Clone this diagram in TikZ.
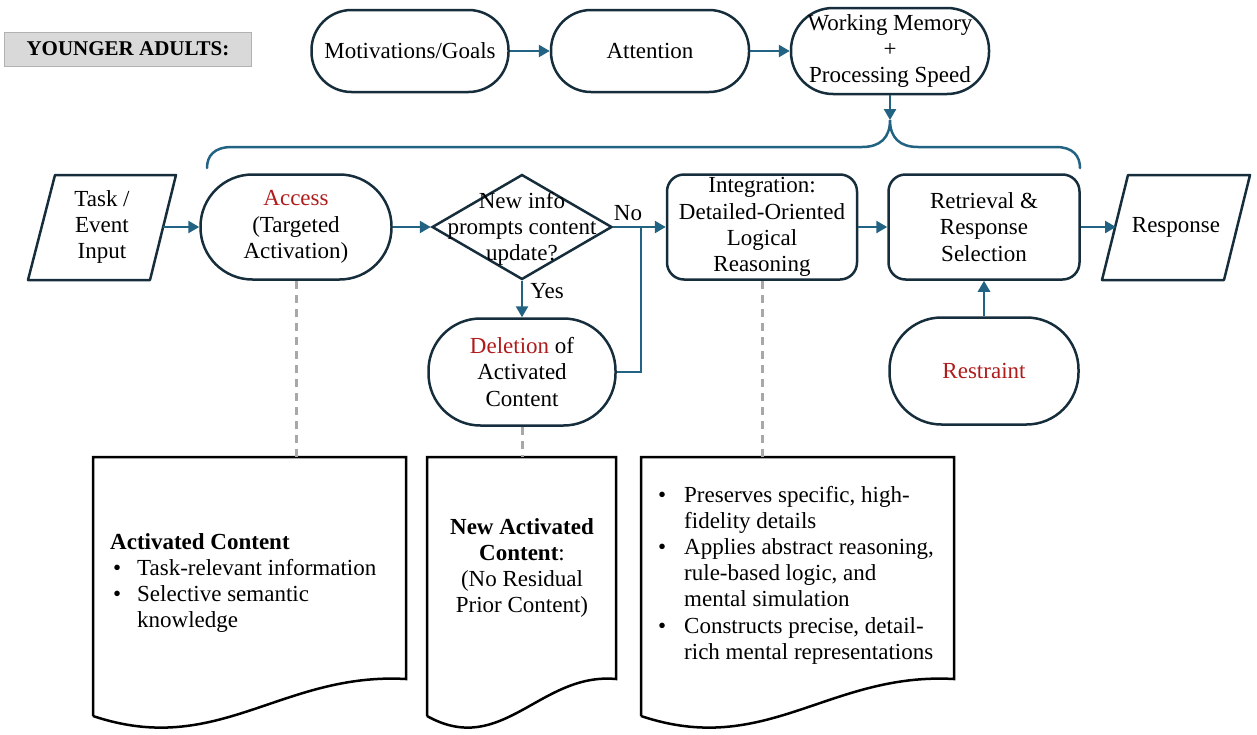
\documentclass[tikz,border=0pt]{standalone}
\usepackage{fontspec}
\setmainfont{Liberation Serif}
\usetikzlibrary{arrows.meta,shapes.geometric}
\definecolor{nodeline}{RGB}{22,45,60}
\definecolor{arrblue}{RGB}{34,98,130}
\definecolor{accred}{RGB}{175,28,28}
\definecolor{dashgray}{RGB}{168,168,168}
\definecolor{labelgray}{RGB}{217,217,217}
\begin{document}
\begin{tikzpicture}[x=1pt,y=-1pt,
  txt/.style={font=\fontsize{23}{26.2}\selectfont, align=center, inner sep=0pt},
  stadium/.style={txt, draw=nodeline, line width=2.5pt, rounded corners=#1},
  roundbox/.style={txt, draw=nodeline, line width=2.5pt, rounded corners=17pt},
  shapeline/.style={draw=nodeline, line width=2.5pt, line join=round},
  docline/.style={draw=black, line width=2.5pt, line join=miter},
  conn/.style={draw=arrblue, line width=2.5pt},
  arr/.style={conn, -{Triangle[length=11pt,width=12pt]}},
  dashconn/.style={draw=dashgray, line width=3pt, dash pattern=on 8pt off 6pt},
  lbl/.style={txt}
]
\useasboundingbox (0,0) rectangle (1257,734);

% title label
\node[txt, font=\fontsize{21}{24}\selectfont\bfseries, fill=labelgray, draw=black!30, line width=0.8pt,
      minimum width=247pt, minimum height=34pt] (title) at (128,49) {YOUNGER ADULTS:};

% top row
\node[stadium=40pt, minimum width=197pt, minimum height=82pt] (mot) at (410,51) {Motivations/Goals};
\node[stadium=40pt, minimum width=198pt, minimum height=82pt] (att) at (650,51) {Attention};
\node[stadium=42pt, minimum width=198pt, minimum height=86pt] (wm) at (890,51) {Working Memory\\+\\Processing Speed};
\draw[arr] (mot) -- (att);
\draw[arr] (att) -- (wm);

% brace
\coordinate (bracetip) at (890,120);
\draw[conn, line cap=round] (207,168) .. controls (207,156) and (214,147) .. (232,147) -- (862,147)
   .. controls (880,147) and (890,138) .. (bracetip)
   .. controls (890,138) and (900,147) .. (918,147) -- (1056,147)
   .. controls (1073,147) and (1080,156) .. (1080,168);
\draw[arr] (wm.south) -- (bracetip);

% task input (parallelogram)
\node[txt, minimum width=100pt, minimum height=100pt] (task) at (102,227) {Task /\\Event\\Input};
\draw[shapeline] (55,175) -- (176,175) -- (150,280) -- (28,280) -- cycle;
\coordinate (taskE) at (163,227);

% access
\node[stadium=52pt, minimum width=191pt, minimum height=105pt] (access) at (296,227)
  {\textcolor{accred}{Access}\\(Targeted\\Activation)};
\draw[arr] (taskE) -- (access);

% decision diamond
\node[diamond, draw=nodeline, line width=2.5pt, inner sep=0pt, minimum width=180pt, minimum height=105pt] (dec) at (522,227) {};
\node[txt] (dectext) at (522,229) {New info\\prompts content\\update?};
\draw[arr] (access) -- (dec);

% integration
\node[roundbox, minimum width=190pt, minimum height=105pt] (integ) at (762,227)
  {Integration:\\Detailed-Oriented\\Logical\\Reasoning};
\draw[arr] (dec.east) -- (integ.west);
\node[lbl] (nolbl) at (628,213) {No};

% deletion
\node[stadium=52pt, minimum width=187pt, minimum height=107pt] (del) at (522,372)
  {\textcolor{accred}{Deletion} of\\Activated\\Content};
\draw[arr] (dec.south) -- (del.north);
\node[lbl] (yeslbl) at (547,291) {Yes};
\coordinate (join) at (641,227);
\draw[conn] (del.east) -| (join);

% retrieval
\node[roundbox, minimum width=191pt, minimum height=105pt] (retr) at (984,227)
  {Retrieval \&\\Response\\Selection};
\draw[arr] (integ) -- (retr);

% response (parallelogram)
\node[txt, minimum width=100pt, minimum height=100pt] (resp) at (1176,227) {Response};
\draw[shapeline] (1128,175) -- (1250,175) -- (1224,280) -- (1102,280) -- cycle;
\coordinate (respW) at (1116,227);
\draw[arr] (retr.east) -- (respW);

% restraint
\node[stadium=52pt, minimum width=189pt, minimum height=107pt] (restr) at (984,371)
  {\textcolor{accred}{Restraint}};
\draw[arr] (restr.north) -- (retr.south);

% documents
\coordinate (doc1top) at (296,457);
\coordinate (doc2top) at (522,457);
\coordinate (doc3top) at (762,457);
\draw[docline] (93,716) -- (93,457) -- (406,457) -- (406,679)
   .. controls (281,672) and (218,758) .. (93,716);
\draw[docline] (427,716) -- (427,457) -- (616,457) -- (616,679)
   .. controls (540,672) and (502,758) .. (427,716);
\draw[docline] (641,716) -- (641,457) -- (954,457) -- (954,679)
   .. controls (829,672) and (766,758) .. (641,716);

\draw[dashconn] (access.south) -- (doc1top);
\draw[dashconn] (del.south) -- (doc2top);
\draw[dashconn] (integ.south) -- (doc3top);

\node[txt, align=left, anchor=west] (doc1txt) at (110,583)
  {\textbf{Activated Content}\\
   \makebox[27pt][l]{\hspace{3pt}\textbullet}Task-relevant information\\
   \makebox[27pt][l]{\hspace{3pt}\textbullet}Selective semantic\\
   \hspace*{27pt}knowledge};
\node[txt] (doc2txt) at (522,568)
  {\textbf{New Activated}\\\textbf{Content}:\\(No Residual\\Prior Content)};
\node[txt, align=left, anchor=west] (doc3txt) at (658,575)
  {\makebox[26pt][l]{\textbullet}Preserves specific, high-\\
   \hspace*{26pt}fidelity details\\
   \makebox[26pt][l]{\textbullet}Applies abstract reasoning,\\
   \hspace*{26pt}rule-based logic, and\\
   \hspace*{26pt}mental simulation\\
   \makebox[26pt][l]{\textbullet}Constructs precise, detail-\\
   \hspace*{26pt}rich mental representations};
\end{tikzpicture}
\end{document}
